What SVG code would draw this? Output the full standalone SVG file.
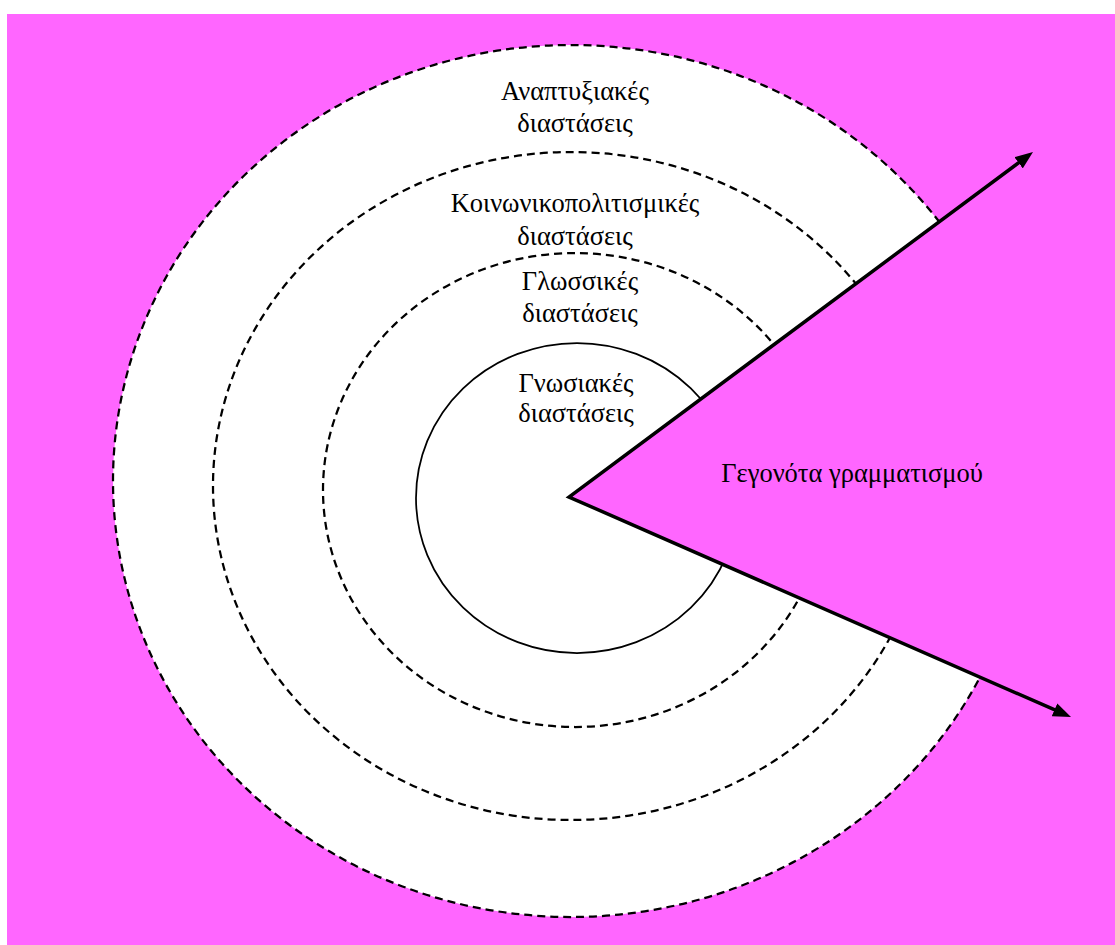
<svg xmlns="http://www.w3.org/2000/svg" width="1115" height="945" viewBox="0 0 1115 945">
  <style>
    .ring { fill: none; stroke: #000; stroke-width: 2.25; stroke-dasharray: 8 5; }
    .core { fill: none; stroke: #000; stroke-width: 1.75; }
    .label { font-family: 'Liberation Serif', 'DejaVu Serif', serif; font-size: 26.5px; fill: #000; text-anchor: middle; }
    .arrow { fill: none; stroke: #000; stroke-width: 3.5; stroke-linejoin: miter; stroke-miterlimit: 20; }
  </style>
  <defs>
    <marker id="head" viewBox="0 0 18 14" refX="6" refY="7" markerWidth="18" markerHeight="14" markerUnits="userSpaceOnUse" orient="auto-start-reverse">
      <path d="M0,0 L18,7 L0,14 z" fill="#000"/>
    </marker>
    <!-- everything except the open sector between the two arrows -->
    <clipPath id="openSector">
      <path clip-rule="evenodd" d="M0,0 H1115 V945 H0 Z M569,497 L1375,-102 L1535,920 Z"/>
    </clipPath>
  </defs>

  <!-- background -->
  <rect x="7" y="14" width="1108" height="931" fill="#FF66FF"/>

  <!-- white disc with the sector cut out -->
  <ellipse cx="571" cy="481" rx="458" ry="436" fill="#fff" clip-path="url(#openSector)"/>

  <g clip-path="url(#openSector)">
    <g id="developmental">
      <ellipse class="ring" cx="571" cy="481" rx="458" ry="436"/>
    </g>
    <g id="sociocultural">
      <ellipse class="ring" cx="571" cy="486" rx="358" ry="334"/>
    </g>
    <g id="linguistic">
      <ellipse class="ring" cx="575" cy="490" rx="252" ry="237"/>
    </g>
    <g id="cognitive">
      <ellipse class="core" cx="577" cy="498" rx="161" ry="155"/>
    </g>
  </g>

  <g id="labels">
    <g id="developmental-label">
      <text class="label" x="575" y="100">Αναπτυξιακές</text>
      <text class="label" x="575" y="132">διαστάσεις</text>
    </g>
    <g id="sociocultural-label">
      <text class="label" x="575" y="212">Κοινωνικοπολιτισμικές</text>
      <text class="label" x="575" y="245">διαστάσεις</text>
    </g>
    <g id="linguistic-label">
      <text class="label" x="580" y="290">Γλωσσικές</text>
      <text class="label" x="580" y="322">διαστάσεις</text>
    </g>
    <g id="cognitive-label">
      <text class="label" x="576" y="392">Γνωσιακές</text>
      <text class="label" x="576" y="422">διαστάσεις</text>
    </g>
    <g id="literacy-events">
      <text class="label" x="852" y="482">Γεγονότα γραμματισμού</text>
    </g>
  </g>

  <g id="connectors">
    <path class="arrow" d="M1023.4,159.2 L569,497 L1060,712.2" marker-start="url(#head)" marker-end="url(#head)"/>
  </g>
</svg>
